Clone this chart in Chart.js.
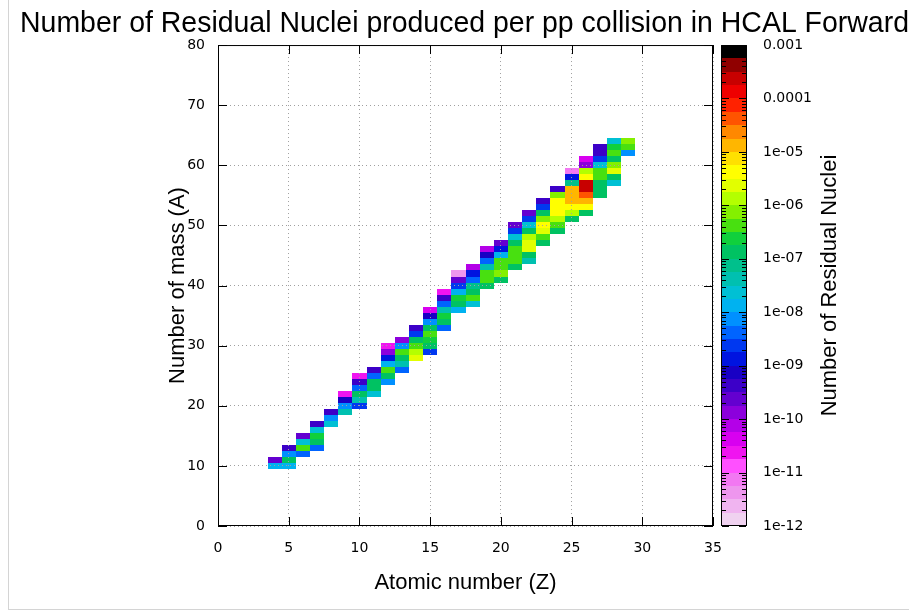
<!DOCTYPE html>
<html>
<head>
<meta charset="utf-8">
<title>Residual nuclei HCAL Forward</title>
<script src="https://cdn.jsdelivr.net/npm/chart.js@4.4.1/dist/chart.umd.min.js"></script>
<style>
  html, body { margin: 0; padding: 0; background: #fff; }
  #wrap { position: relative; width: 909px; height: 613px; }
  #edge { position: absolute; left: 8px; top: 0; width: 901px; height: 610px; box-sizing: border-box;
          border-left: 1px solid #d4d4d4; border-bottom: 1px solid #d4d4d4; pointer-events: none; }
</style>
</head>
<body>
<div id="wrap">
  <canvas id="nuclei" width="909" height="613"></canvas>
  <div id="edge"></div>
</div>
<script>
// one column per atomic number Z; firstA = lowest mass number drawn in that column,
// log10Counts = log10(residual nuclei per pp collision) going up in A from firstA
const zList  = [4, 5, 6, 7, 8, 9, 10, 11, 12, 13, 14, 15, 16, 17, 18, 19, 20, 21, 22, 23, 24, 25, 26, 27, 28, 29];
const firstA = [10, 10, 12, 13, 17, 19, 20, 22, 24, 26, 28, 29, 33, 36, 37, 40, 41, 43, 44, 47, 49, 51, 52, 55, 57, 62];
const log10Counts = [
  [-8.0, -9.6],
  [-8.0, -7.0, -8.2, -9.5],
  [-8.3, -6.4, -7.6, -9.6],
  [-8.3, -7.0, -6.6, -7.6, -9.5],
  [-7.6, -8.2, -9.5],
  [-7.5, -8.1, -9.1, -10.6],
  [-8.6, -7.4, -7.0, -8.4, -9.5, -10.6],
  [-7.6, -7.0, -6.8, -8.3, -9.5],
  [-8.2, -7.0, -6.5, -8.0, -9.0, -9.8, -10.6],
  [-8.4, -7.5, -6.9, -6.4, -8.1, -9.9],
  [-5.6, -5.9, -6.3, -7.0, -8.6, -9.5],
  [-8.7, -6.9, -6.6, -6.4, -7.0, -8.1, -9.2, -10.4],
  [-8.4, -6.8, -6.6, -7.5, -8.3, -9.5, -10.6],
  [-7.8, -7.0, -6.7, -7.8, -8.7, -9.6, -11.3],
  [-7.6, -6.5, -6.8, -7.2, -8.5, -9.0, -10.2],
  [-7.0, -6.4, -6.3, -7.5, -8.3, -9.2, -10.1],
  [-7.0, -6.2, -6.3, -6.4, -7.8, -8.8, -9.6],
  [-7.0, -6.5, -6.3, -6.3, -7.0, -7.6, -8.7, -9.6],
  [-7.3, -6.9, -5.6, -5.6, -5.9, -6.9, -7.6, -8.7, -9.6],
  [-7.0, -6.3, -5.6, -5.5, -6.2, -6.9, -8.6, -9.5],
  [-7.0, -6.3, -5.8, -5.4, -5.3, -5.5, -6.2, -9.4],
  [-7.0, -6.0, -5.4, -4.8, -4.8, -5.0, -7.2, -8.8, -11.2],
  [-7.0, -5.5, -4.8, -4.3, -3.6, -3.6, -5.5, -5.9, -9.8, -10.3],
  [-7.0, -7.0, -6.9, -6.4, -6.4, -7.6, -8.6, -9.5, -9.5],
  [-7.6, -6.8, -5.6, -6.2, -7.0, -6.4, -6.7, -7.6],
  [-8.2, -6.3, -6.1]
];

const xTickStep = 5;
const yTickStep = 10;
const cbDecades = [1e-12, 1e-11, 1e-10, 1e-9, 1e-8, 1e-7, 1e-6, 1e-5, 1e-4, 1e-3];

// palette, 4 steps per decade from 1e-12 up to 1e-3
const paletteSteps = [
  '#f0d2f0', '#f0b4f0', '#ee96ee', '#f278f2',
  '#ff50ff', '#f014f0', '#d800f0', '#b400e8',
  '#8c00dc', '#6400d0', '#3c00c8', '#1800c4',
  '#0014e0', '#0038f0', '#0064ff', '#0090ff',
  '#00b2f0', '#00c0d4', '#00c0b0', '#00c08c',
  '#00c262', '#10d03c', '#48e010', '#84f000',
  '#b4ff00', '#e2ff00', '#ffff00', '#ffe000',
  '#ffb600', '#ff8800', '#ff5400', '#ff2200',
  '#ee0000', '#c80000', '#900000', '#000000'
];

function colourFor(v) {
  let i = Math.floor((Math.log10(v) + 12) * 4);
  i = Math.max(0, Math.min(paletteSteps.length - 1, i));
  return paletteSteps[i];
}

const cells = [];
zList.forEach((z, i) => {
  log10Counts[i].forEach((e, k) => {
    cells.push({x: z, y: firstA[i] + k, v: Math.pow(10, e)});
  });
});

const titleFont = {family: 'Liberation Sans', size: 28.7, weight: 'normal', lineHeight: 1.2};
const axisTitleFont = {family: 'Liberation Sans', size: 22, lineHeight: 1.2};

const heatmapPlugin = {
  id: 'heatmap',
  beforeDatasetsDraw(chart) {
    const {ctx, scales: {x, y}} = chart;
    ctx.save();
    chart.data.datasets[0].data.forEach(p => {
      const x0 = Math.round(x.getPixelForValue(p.x - 0.5));
      const x1 = Math.round(x.getPixelForValue(p.x + 0.5));
      const y0 = Math.round(y.getPixelForValue(p.y + 0.5));
      const y1 = Math.round(y.getPixelForValue(p.y - 0.5));
      ctx.fillStyle = colourFor(p.v);
      ctx.fillRect(x0, y0, x1 - x0, y1 - y0);
    });
    ctx.restore();
  },
  afterDraw(chart) {
    const {ctx, chartArea: a, scales: {x, y, y2}} = chart;
    ctx.save();
    ctx.strokeStyle = '#000';
    ctx.lineWidth = 1;
    // frame
    ctx.strokeRect(a.left + 0.5, a.top + 0.5, a.right - a.left - 1, a.bottom - a.top - 1);
    // inward tick marks on all four sides
    const tl = 9;
    ctx.beginPath();
    x.ticks.forEach(t => {
      const px = Math.round(x.getPixelForValue(t.value)) + 0.5;
      ctx.moveTo(px, a.bottom); ctx.lineTo(px, a.bottom - tl);
      ctx.moveTo(px, a.top); ctx.lineTo(px, a.top + tl);
    });
    y.ticks.forEach(t => {
      const py = Math.round(y.getPixelForValue(t.value)) + 0.5;
      ctx.moveTo(a.left, py); ctx.lineTo(a.left + tl, py);
      ctx.moveTo(a.right, py); ctx.lineTo(a.right - tl, py);
    });
    ctx.stroke();

    // colour box
    const cbL = 722, cbW = 24;
    paletteSteps.forEach((c, i) => {
      const lo = -12 + i / 4, hi = lo + 0.25;
      const yt = Math.round(y2.getPixelForValue(Math.pow(10, hi)));
      const yb = Math.round(y2.getPixelForValue(Math.pow(10, lo)));
      ctx.fillStyle = c;
      ctx.fillRect(cbL, yt, cbW, yb - yt);
    });
    ctx.strokeRect(cbL - 0.5, a.top + 0.5, cbW + 1, a.bottom - a.top - 1);
    ctx.beginPath();
    cbDecades.forEach((d, k) => {
      const py = Math.round(y2.getPixelForValue(d)) + 0.5;
      ctx.moveTo(cbL, py); ctx.lineTo(cbL + 7, py);
      ctx.moveTo(cbL + cbW, py); ctx.lineTo(cbL + cbW - 7, py);
      if (k < cbDecades.length - 1) {
        for (let m = 2; m <= 9; m++) {
          const pm = Math.round(y2.getPixelForValue(d * m)) + 0.5;
          ctx.moveTo(cbL, pm); ctx.lineTo(cbL + 4, pm);
          ctx.moveTo(cbL + cbW, pm); ctx.lineTo(cbL + cbW - 4, pm);
        }
      }
    });
    ctx.stroke();

    // colour box title, reading upwards
    ctx.fillStyle = '#000';
    ctx.font = axisTitleFont.size + 'px "' + axisTitleFont.family + '"';
    ctx.textAlign = 'center';
    ctx.textBaseline = 'middle';
    ctx.translate(830, (a.top + a.bottom) / 2);
    ctx.rotate(-Math.PI / 2);
    ctx.fillText('Number of Residual Nuclei', 0, 0);
    ctx.restore();
  }
};

Chart.defaults.font.family = 'DejaVu Sans';
Chart.defaults.font.size = 14;
Chart.defaults.color = '#000';

const nucleiChart = new Chart(document.getElementById('nuclei'), {
  type: 'scatter',
  data: {
    datasets: [{
      label: 'Residual nuclei',
      data: cells,
      pointRadius: 0,
      pointHoverRadius: 0
    }]
  },
  options: {
    responsive: false,
    animation: false,
    events: [],
    layout: {padding: {left: 20, right: 0, top: 0, bottom: 0}},
    plugins: {
      legend: {display: false},
      tooltip: {enabled: false},
      title: {
        display: true,
        text: 'Number of Residual Nuclei produced per pp collision in HCAL Forward',
        font: titleFont,
        color: '#000',
        padding: {top: 6.8, bottom: 3.8}
      }
    },
    scales: {
      x: {
        type: 'linear', min: 0, max: 35,
        ticks: {stepSize: xTickStep, padding: 14},
        grid: {color: '#a0a0a0', drawTicks: false, z: 1},
        border: {display: false, dash: [1, 3]},
        title: {display: true, text: 'Atomic number (Z)', font: axisTitleFont, padding: {top: 0, bottom: 17}},
        afterFit(s) { s.height = 87; }
      },
      y: {
        type: 'linear', min: 0, max: 80,
        ticks: {stepSize: yTickStep, padding: 13},
        grid: {color: '#a0a0a0', drawTicks: false, z: 1},
        border: {display: false, dash: [1, 3]},
        title: {display: true, text: 'Number of mass (A)', font: axisTitleFont, padding: {top: 145, bottom: 0}},
        afterFit(s) { s.width = 198; s.paddingTop = 8; s.paddingBottom = 8; }
      },
      y2: {
        type: 'logarithmic', position: 'right', min: 1e-12, max: 1e-3,
        grid: {display: false, drawTicks: false},
        border: {display: false},
        ticks: {
          padding: 50, autoSkip: false,
          callback(v) {
            const e = Math.round(Math.log10(v));
            return e >= -4 ? v.toFixed(-e) : '1e-' + String(-e).padStart(2, '0');
          }
        },
        afterBuildTicks(s) { s.ticks = cbDecades.map(v => ({value: v})); },
        afterFit(s) { s.width = 196; s.paddingTop = 8; s.paddingBottom = 8; }
      }
    }
  },
  plugins: [heatmapPlugin]
});
</script>
</body>
</html>
